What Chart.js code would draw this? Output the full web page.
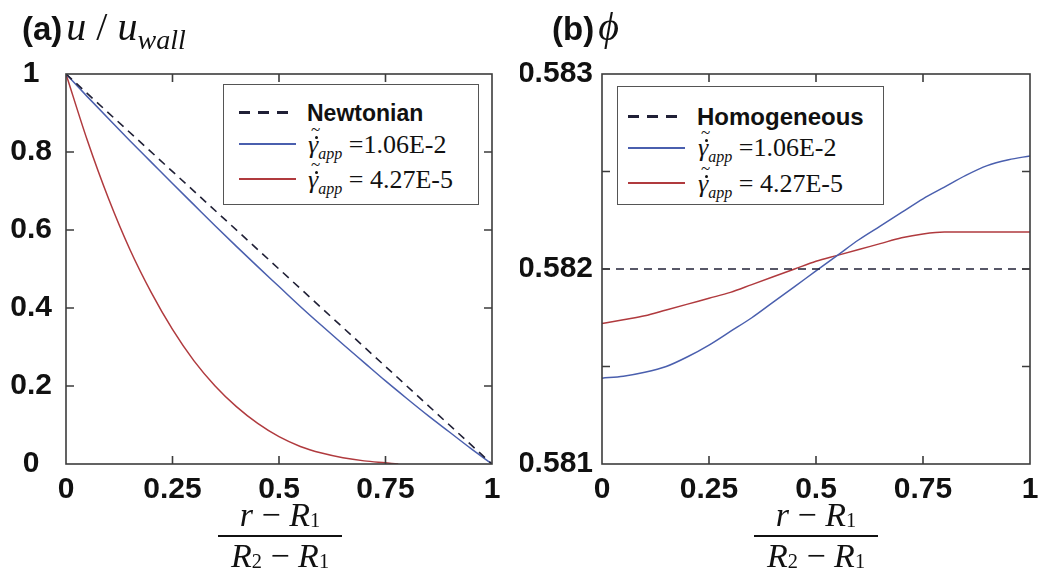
<!DOCTYPE html>
<html lang="en">
<head>
<meta charset="UTF-8">
<title>Velocity and concentration profiles</title>
<script src="https://cdn.jsdelivr.net/npm/chart.js"></script>
<style>
  body { margin: 0; background: #fff; }
  #wrap { position: relative; width: 1040px; height: 579px; overflow: hidden; background: #fff; }
  .panel { position: absolute; top: 0; width: 520px; height: 579px; }
  .txt { position: absolute; white-space: nowrap; color: #111; line-height: 1; }
  .sans { font-family: "Liberation Sans", Arial, sans-serif; font-weight: bold; }
  .serif { font-family: "Liberation Serif", "Times New Roman", serif; }
  .legend { position: absolute; background: #fff; border: 1.5px solid #555; box-sizing: border-box; }
  .sample { position: absolute; height: 2px; }
  .dash { height: 3px; background: repeating-linear-gradient(90deg, #202036 0 11px, transparent 11px 19px); }
  .gam { position: relative; display: inline-block; font-style: italic; line-height: 1; }
  .gam .dot { position: absolute; left: 7px; top: 4px; width: 3px; height: 3px; border-radius: 50%; background: #111; }
  .gam .til { position: absolute; left: 3px; top: -11px; font-size: 17px; font-style: normal; line-height: 1; }
  .frac { position: absolute; text-align: center; font-family: "Liberation Serif", "Times New Roman", serif; font-size: 34px; color: #111; line-height: 1; }
  .frac .bar { border-top: 2px solid #111; margin: 3px 0 2px 0; }
  .frac sub { font-size: 60%; vertical-align: -0.05em; font-style: normal; }
</style>
</head>
<body>
<div id="wrap">
  <div class="panel" style="left:0"><canvas id="chartU" width="520" height="579"></canvas></div>
  <div class="panel" style="left:520px"><canvas id="chartPhi" width="520" height="579"></canvas></div>

  <!-- panel titles -->
  <div class="txt" style="left:22px; top:7px;">
    <span class="sans" style="font-size:33px">(a)</span>
    <span class="serif" style="font-size:40px"><i>u</i> / <i>u</i><sub style="font-size:28px"><i>wall</i></sub></span>
  </div>
  <div class="txt" style="left:552px; top:7px;">
    <span class="sans" style="font-size:33px">(b)</span>
    <span class="serif" style="font-size:40px"><i>&#981;</i></span>
  </div>

  <!-- axis titles -->
  <div class="frac" style="left:218px; top:498px; width:124px;">
    <div><i>r</i> &minus; <i>R</i><sub>1</sub></div>
    <div class="bar"></div>
    <div><i>R</i><sub>2</sub> &minus; <i>R</i><sub>1</sub></div>
  </div>
  <div class="frac" style="left:754px; top:498px; width:124px;">
    <div><i>r</i> &minus; <i>R</i><sub>1</sub></div>
    <div class="bar"></div>
    <div><i>R</i><sub>2</sub> &minus; <i>R</i><sub>1</sub></div>
  </div>

  <!-- legends -->
  <div class="legend" style="left:223px; top:84px; width:256px; height:121px;">
    <div class="sample dash" style="left:15px; top:26px; width:57px;"></div>
    <div class="txt sans" style="left:83px; top:17px; font-size:23px;">Newtonian</div>
    <div class="sample" style="left:15px; top:58px; width:57px; background:#4a5fae;"></div>
    <div class="txt serif" style="left:84px; top:47px; font-size:26px;"><span class="gam">&#947;<span class="dot"></span><span class="til">~</span></span><sub style="font-size:16px"><i>app</i></sub> =1.06E-2</div>
    <div class="sample" style="left:15px; top:93px; width:57px; background:#b03a3e;"></div>
    <div class="txt serif" style="left:84px; top:82px; font-size:26px;"><span class="gam">&#947;<span class="dot"></span><span class="til">~</span></span><sub style="font-size:16px"><i>app</i></sub> = 4.27E-5</div>
  </div>
  <div class="legend" style="left:617px; top:86px; width:267px; height:119px;">
    <div class="sample dash" style="left:10px; top:28px; width:57px;"></div>
    <div class="txt sans" style="left:79px; top:18px; font-size:24px;">Homogeneous</div>
    <div class="sample" style="left:10px; top:60px; width:57px; background:#4a5fae;"></div>
    <div class="txt serif" style="left:80px; top:48px; font-size:26px;"><span class="gam">&#947;<span class="dot"></span><span class="til">~</span></span><sub style="font-size:16px"><i>app</i></sub> =1.06E-2</div>
    <div class="sample" style="left:10px; top:95px; width:57px; background:#b03a3e;"></div>
    <div class="txt serif" style="left:80px; top:84px; font-size:26px;"><span class="gam">&#947;<span class="dot"></span><span class="til">~</span></span><sub style="font-size:16px"><i>app</i></sub> = 4.27E-5</div>
  </div>
</div>

<script>
// radial position (r - R1)/(R2 - R1)
const xGrid = [0, 0.05, 0.1, 0.15, 0.2, 0.25, 0.3, 0.35, 0.4, 0.45, 0.5,
               0.55, 0.6, 0.65, 0.7, 0.75, 0.8, 0.85, 0.9, 0.95, 1];
const xEnds = [0, 1];

// (a) velocity u / u_wall
const uNewtonian = [1, 0];
const uHigh = [1, 0.942, 0.885, 0.829, 0.774, 0.719, 0.665, 0.611, 0.558, 0.506, 0.455,
               0.404, 0.355, 0.307, 0.260, 0.213, 0.168, 0.124, 0.082, 0.040, 0];
const xLowU = [0, 0.05, 0.1, 0.15, 0.2, 0.25, 0.3, 0.35, 0.4, 0.45, 0.5,
               0.55, 0.6, 0.65, 0.7, 0.75, 0.78];
const uLow = [1, 0.83, 0.68, 0.55, 0.44, 0.345, 0.265, 0.2, 0.147, 0.104, 0.07,
              0.045, 0.028, 0.016, 0.008, 0.003, 0];

// (b) volume fraction phi
const phiHomog = [0.582, 0.582];
const phiHigh = [0.58144, 0.58145, 0.58147, 0.58150, 0.58155, 0.58161, 0.58168, 0.58175, 0.58183, 0.58191, 0.58199,
                 0.58207, 0.58215, 0.58222, 0.58229, 0.58236, 0.58242, 0.58248, 0.58253, 0.58256, 0.58258];
const phiLow = [0.58172, 0.58174, 0.58176, 0.58179, 0.58182, 0.58185, 0.58188, 0.58192, 0.58196, 0.58200, 0.58204,
                0.58207, 0.58210, 0.58213, 0.58216, 0.58218, 0.58219, 0.58219, 0.58219, 0.58219, 0.58219];

const xTickLabels = ['0', '0.25', '0.5', '0.75', '1'];

const BLUE = '#4a5fae';
const RED = '#b03a3e';
const DARK = '#202036';
const tickFont = { family: '"Liberation Sans", Arial, sans-serif', size: 30, weight: 'bold' };

const pts = (xs, ys) => xs.map((x, i) => ({ x: x, y: ys[i] }));

// frame around the plot area with inward tick marks on all four sides
const frameTicks = {
  id: 'frameTicks',
  afterDatasetsDraw(chart) {
    const { ctx, chartArea: a, scales } = chart;
    const len = 8;
    ctx.save();
    ctx.strokeStyle = '#3c3c3c';
    ctx.lineWidth = 1.6;
    ctx.beginPath();
    scales.x.ticks.forEach(t => {
      const px = scales.x.getPixelForValue(t.value);
      if (px <= a.left + 1 || px >= a.right - 1) return;
      ctx.moveTo(px, a.bottom); ctx.lineTo(px, a.bottom - len);
      ctx.moveTo(px, a.top); ctx.lineTo(px, a.top + len);
    });
    scales.y.ticks.forEach(t => {
      const py = scales.y.getPixelForValue(t.value);
      if (py <= a.top + 1 || py >= a.bottom - 1) return;
      ctx.moveTo(a.left, py); ctx.lineTo(a.left + len, py);
      ctx.moveTo(a.right, py); ctx.lineTo(a.right - len, py);
    });
    ctx.stroke();
    ctx.strokeRect(a.left, a.top, a.right - a.left, a.bottom - a.top);
    ctx.restore();
  }
};

function makeChart(id, datasets, yOpts, yWidth, padRight) {
  return new Chart(document.getElementById(id), {
    type: 'line',
    data: { datasets: datasets },
    options: {
      responsive: false,
      animation: false,
      layout: { padding: { top: 74, right: padRight, left: 0, bottom: 0 } },
      plugins: { legend: { display: false }, tooltip: { enabled: false } },
      elements: { point: { radius: 0 } },
      scales: {
        x: {
          type: 'linear', min: 0, max: 1,
          grid: { display: false, drawTicks: false },
          border: { display: false },
          ticks: {
            stepSize: 0.25, padding: 8, color: '#111', font: tickFont, maxRotation: 0,
            callback: (v) => xTickLabels[Math.round(v * 4)]
          },
          afterFit: (s) => { s.height = 115; s.paddingLeft = 0; s.paddingRight = 0; }
        },
        y: Object.assign({
          type: 'linear',
          grid: { display: false, drawTicks: false },
          border: { display: false },
          afterFit: (s) => { s.width = yWidth; s.paddingTop = 0; s.paddingBottom = 0; }
        }, yOpts)
      }
    },
    plugins: [frameTicks]
  });
}

makeChart('chartU', [
  { data: pts(xEnds, uNewtonian), borderColor: DARK, borderWidth: 1.6, borderDash: [8, 6] },
  { data: pts(xGrid, uHigh), borderColor: BLUE, borderWidth: 1.5, cubicInterpolationMode: 'monotone' },
  { data: pts(xLowU, uLow), borderColor: RED, borderWidth: 1.5, cubicInterpolationMode: 'monotone' }
], {
  min: 0, max: 1,
  ticks: {
    stepSize: 0.2, padding: 14, crossAlign: 'center', color: '#111', font: tickFont,
    callback: (v) => String(Math.round(v * 10) / 10)
  }
}, 66, 28);

makeChart('chartPhi', [
  { data: pts(xEnds, phiHomog), borderColor: DARK, borderWidth: 1.6, borderDash: [8, 6] },
  { data: pts(xGrid, phiHigh), borderColor: BLUE, borderWidth: 1.5, cubicInterpolationMode: 'monotone' },
  { data: pts(xGrid, phiLow), borderColor: RED, borderWidth: 1.5, cubicInterpolationMode: 'monotone' }
], {
  min: 0.581, max: 0.583,
  ticks: {
    stepSize: 0.0005, padding: 9, color: '#111', font: tickFont,
    callback: (v) => (Math.round(v * 10000) % 10 === 0 ? v.toFixed(3) : '')
  }
}, 82, 10);
</script>
</body>
</html>
